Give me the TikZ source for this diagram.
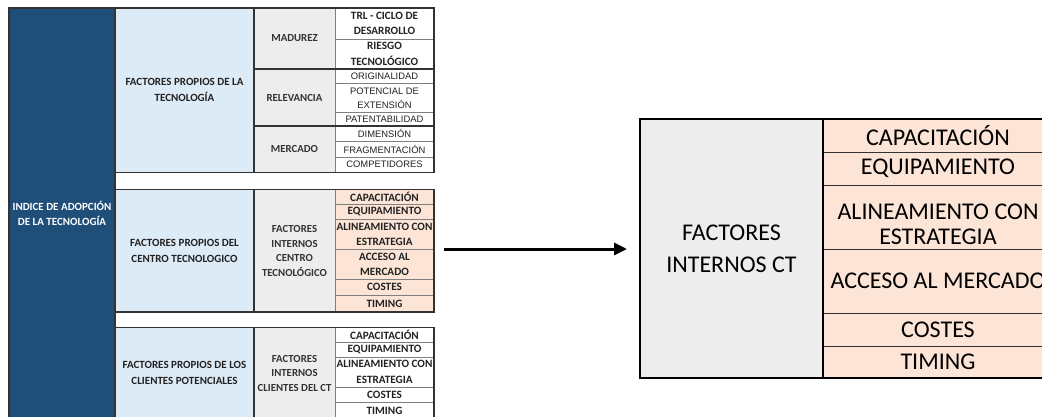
\documentclass[tikz,border=0pt]{standalone}
\usepackage{fontspec}
\setmainfont{Carlito}
\newfontfamily\arialfont{Liberation Sans}
\usetikzlibrary{arrows.meta}

\definecolor{navy}{HTML}{1F4E79}
\definecolor{paleblue}{HTML}{DDEBF7}
\definecolor{palegray}{HTML}{EDEDED}
\definecolor{peach}{HTML}{FCE4D6}
\definecolor{gridline}{HTML}{7F7F7F}
\definecolor{frameline}{HTML}{333333}
\definecolor{inktext}{HTML}{222222}

% one table cell: style, name, x1, y1, x2, y2, text (pixel units, y downwards)
\newcommand\cellnode[7]{%
  \node[#1, anchor=north west,
        minimum width={(#5-#3)*1pt}, minimum height={(#6-#4)*1pt}]
        (#2) at (#3,#4) {#7};}

\tikzset{
  cell/.style={draw=gridline, line width=0.8pt, inner sep=0pt, outer sep=0pt,
               align=center, text=inktext},
  navycell/.style={cell, fill=navy, text=white,
                   font=\fontsize{11}{15}\selectfont\bfseries},
  bluecell/.style={cell, fill=paleblue, font=\fontsize{11}{16}\selectfont\bfseries},
  greycell/.style={cell, fill=palegray, text=frameline,
                   font=\fontsize{10.8}{14.5}\selectfont\bfseries},
  whitecell/.style={cell, fill=white, font=\fontsize{11.2}{15.5}\selectfont\bfseries},
  peachcell/.style={cell, fill=peach, font=\fontsize{11.2}{15}\selectfont\bfseries},
  arialcell/.style={cell, fill=white, font=\arialfont\fontsize{9.4}{14.3}\selectfont},
  bigcell/.style={cell, draw=frameline, line width=1pt, text=black,
                  font=\fontsize{24}{25}\selectfont},
  frame/.style={draw=frameline, line width=1.6pt},
  arrowline/.style={draw=black, line width=3pt,
                    -{Triangle[length=13pt,width=12pt]}},
}

\begin{document}
\begin{tikzpicture}[x=1pt, y=-1pt]
  \useasboundingbox (0,0) rectangle (1042,416);
  \clip (0,0) rectangle (1042,416);
  \fill[white] (0,0) rectangle (1042,416);

  % ---------- left column ----------
  \cellnode{navycell}{idx}{9}{8}{115}{419}{INDICE DE ADOPCIÓN\\DE LA TECNOLOGÍA}

  % ---------- block 1: technology ----------
  \cellnode{bluecell}{b1}{115}{8}{254}{172.5}{FACTORES PROPIOS DE LA\\TECNOLOGÍA}
  \cellnode{greycell}{g1a}{254}{8}{335}{69}{MADUREZ}
  \cellnode{greycell}{g1b}{254}{69}{335}{126}{RELEVANCIA}
  \cellnode{greycell}{g1c}{254}{126}{335}{172.5}{MERCADO}
  \cellnode{whitecell}{w1a}{335}{8}{434}{39}{TRL - CICLO DE\\DESARROLLO}
  \cellnode{whitecell}{w1b}{335}{39}{434}{69}{RIESGO\\TECNOLÓGICO}
  \cellnode{arialcell}{w1c}{335}{69}{434}{83.5}{ORIGINALIDAD}
  \cellnode{arialcell}{w1d}{335}{83.5}{434}{112.5}{POTENCIAL DE\\EXTENSIÓN}
  \cellnode{arialcell}{w1e}{335}{112.5}{434}{126}{PATENTABILIDAD}
  \cellnode{arialcell}{w1f}{335}{126}{434}{141.5}{DIMENSIÓN}
  \cellnode{arialcell}{w1g}{335}{141.5}{434}{157}{FRAGMENTACIÓN}
  \cellnode{arialcell}{w1h}{335}{157}{434}{172.5}{COMPETIDORES}
  \draw[frame] (b1.north west) rectangle (w1h.south east);
  \draw[frame] (g1a.south west) -- (w1b.south east);
  \draw[frame] (g1b.south west) -- (w1e.south east);
  \draw[frame] (g1a.north west) -- (g1c.south west);

  % ---------- block 2: technology centre ----------
  \cellnode{bluecell}{b2}{115}{189.5}{254}{312}{FACTORES PROPIOS DEL\\CENTRO TECNOLOGICO}
  \cellnode{greycell}{g2}{254}{189.5}{335}{312}{FACTORES\\INTERNOS\\CENTRO\\TECNOLÓGICO}
  \cellnode{peachcell}{p2a}{335}{189.5}{434}{204}{CAPACITACIÓN}
  \cellnode{peachcell}{p2b}{335}{204}{434}{219}{EQUIPAMIENTO}
  \cellnode{peachcell}{p2c}{335}{219}{434}{249}{ALINEAMIENTO CON\\ESTRATEGIA}
  \cellnode{peachcell}{p2d}{335}{249}{434}{279}{ACCESO AL\\MERCADO}
  \cellnode{peachcell}{p2e}{335}{279}{434}{295}{COSTES}
  \cellnode{peachcell}{p2f}{335}{295}{434}{312}{TIMING}
  \draw[frame] (b2.north west) rectangle (p2f.south east);
  \draw[frame] (g2.north west) -- (g2.south west);

  % ---------- block 3: potential clients ----------
  \cellnode{bluecell}{b3}{115}{327.5}{254}{419}{FACTORES PROPIOS DE LOS\\CLIENTES POTENCIALES}
  \cellnode{greycell}{g3}{254}{327.5}{335}{419}{FACTORES\\INTERNOS\\CLIENTES DEL CT}
  \cellnode{whitecell}{w3a}{335}{327.5}{434}{342}{CAPACITACIÓN}
  \cellnode{whitecell}{w3b}{335}{342}{434}{357}{EQUIPAMIENTO}
  \cellnode{whitecell}{w3c}{335}{357}{434}{387}{ALINEAMIENTO CON\\ESTRATEGIA}
  \cellnode{whitecell}{w3d}{335}{387}{434}{402.5}{COSTES}
  \cellnode{whitecell}{w3e}{335}{402.5}{434}{419}{TIMING}
  \draw[frame] (b3.north west) rectangle (w3e.south east);
  \draw[frame] (g3.north west) -- (g3.south west);

  \draw[frame] (idx.north west) rectangle (idx.south east);

  % ---------- enlarged internal factors table ----------
  \node[bigcell, fill=palegray, anchor=north west, font=\fontsize{24}{32}\selectfont,
        minimum width=183pt, minimum height=259pt] (fi) at (640,119)
        {FACTORES\\INTERNOS CT};
  \cellnode{bigcell, fill=peach}{r1}{823}{119}{1053}{152}{CAPACITACIÓN}
  \cellnode{bigcell, fill=peach}{r2}{823}{152}{1053}{185}{EQUIPAMIENTO}
  \cellnode{bigcell, fill=peach}{r3}{823}{185}{1053}{249}{\rule{0pt}{30pt}ALINEAMIENTO CON\\ESTRATEGIA}
  \cellnode{bigcell, fill=peach}{r4}{823}{249}{1053}{313}{ACCESO AL MERCADO}
  \cellnode{bigcell, fill=peach}{r5}{823}{313}{1053}{346}{COSTES}
  \cellnode{bigcell, fill=peach}{r6}{823}{346}{1053}{378}{TIMING}
  \draw[draw=black, line width=1.5pt] (fi.north west) rectangle (r6.south east);
  \draw[draw=black, line width=1.2pt] (fi.north east) -- (fi.south east);

  % ---------- connector ----------
  \draw[arrowline] ([xshift=10pt]p2c.south east) -- ([xshift=-13pt]p2c.south east -| fi.west);
\end{tikzpicture}
\end{document}
